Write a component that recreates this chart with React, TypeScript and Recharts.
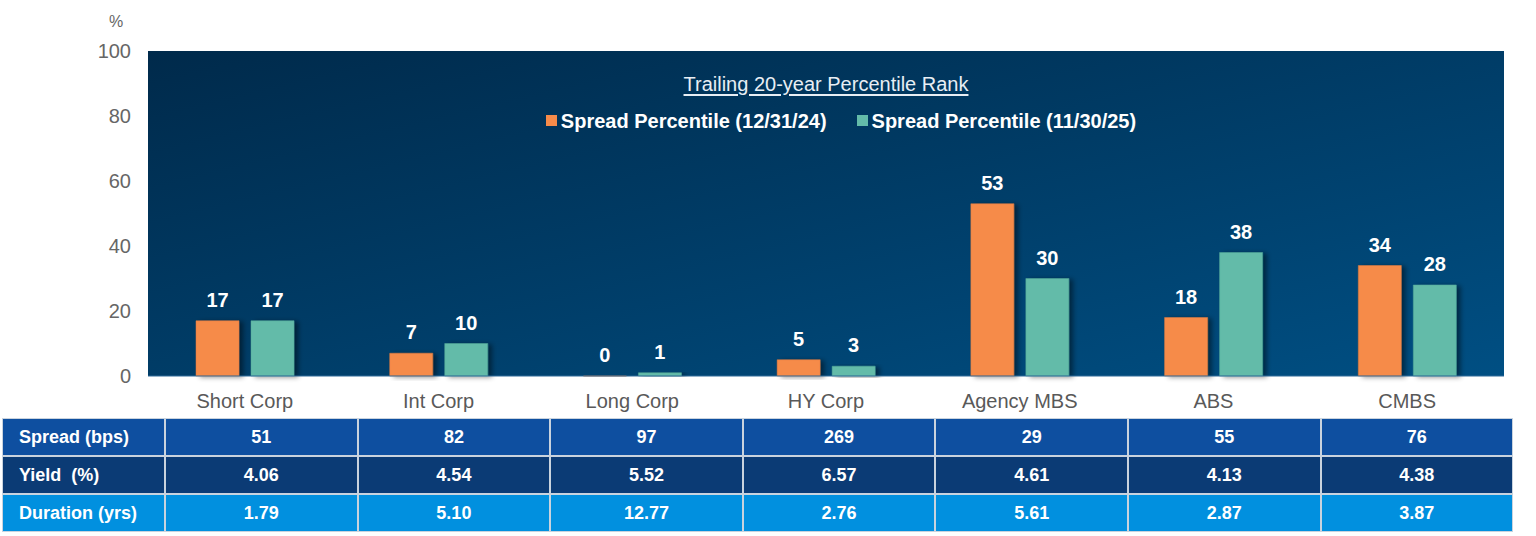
import React from "react";
import {
  BarChart,
  Bar,
  XAxis,
  YAxis,
  CartesianGrid,
  LabelList,
} from "recharts";

const categories = [
  "Short Corp",
  "Int Corp",
  "Long Corp",
  "HY Corp",
  "Agency MBS",
  "ABS",
  "CMBS",
];
const pct2024 = [17, 7, 0, 5, 53, 18, 34];
const pct2025 = [17, 10, 1, 3, 30, 38, 28];
const yTicks = [0, 20, 40, 60, 80, 100];

const spreadBps = ["51", "82", "97", "269", "29", "55", "76"];
const yieldPct = ["4.06", "4.54", "5.52", "6.57", "4.61", "4.13", "4.38"];
const durationYrs = ["1.79", "5.10", "12.77", "2.76", "5.61", "2.87", "3.87"];

const ORANGE = "#F68B4A";
const TEAL = "#63BBA9";
const FONT = "'Liberation Sans', Arial, sans-serif";

const tableRows = [
  { label: "Spread (bps)", values: spreadBps, bg: "#0E4FA0" },
  { label: "Yield  (%)", values: yieldPct, bg: "#0B3B75" },
  { label: "Duration (yrs)", values: durationYrs, bg: "#0190DF" },
];

const data = categories.map((name, i) => ({
  name,
  p2024: pct2024[i],
  p2025: pct2025[i],
}));

// value label above each bar (drawn even when the bar has zero height)
const renderValueLabel = (props: any) => {
  const { x, y, width, value } = props;
  if (value === undefined || value === null) return null;
  return (
    <text
      x={Number(x) + Number(width) / 2}
      y={Number(y) - 14}
      textAnchor="middle"
      fill="#fff"
      fontSize={20}
      fontWeight="bold"
      fontFamily={FONT}
    >
      {value}
    </text>
  );
};

const LegendSwatch = ({ color }: { color: string }) => (
  <span
    style={{
      display: "inline-block",
      width: 11,
      height: 11,
      background: color,
      marginRight: 4,
      verticalAlign: "middle",
      position: "relative",
      top: -2,
    }}
  />
);

const App = () => {
  return (
    <div
      style={{
        position: "fixed",
        left: 0,
        top: 0,
        width: 1536,
        height: 536,
        background: "#fff",
        fontFamily: FONT,
      }}
    >
      <div
        style={{
          position: "absolute",
          left: 109,
          top: 13,
          fontSize: 16,
          color: "#666",
        }}
      >
        %
      </div>
      <BarChart
        width={1536}
        height={416}
        data={data}
        margin={{ top: 51, right: 32, left: 0, bottom: 10 }}
        barSize={43}
        barGap={12}
      >
        <defs>
          <linearGradient id="plotBg" x1="0" y1="0" x2="1" y2="1">
            <stop offset="0%" stopColor="#002A4B" />
            <stop offset="100%" stopColor="#004F83" />
          </linearGradient>
          <filter id="barShadow" x="-20%" y="-20%" width="160%" height="140%">
            <feDropShadow
              dx={4}
              dy={1}
              stdDeviation={2.5}
              floodColor="#000"
              floodOpacity={0.45}
            />
          </filter>
        </defs>
        <CartesianGrid
          horizontal={false}
          vertical={false}
          fill="url(#plotBg)"
          fillOpacity={1}
        />
        <XAxis
          dataKey="name"
          tickLine={false}
          axisLine={{ stroke: "#2E6A99" }}
          tick={{ fill: "#595959", fontSize: 20, fontFamily: FONT }}
          tickMargin={12}
        />
        <YAxis
          width={148}
          domain={[0, 100]}
          ticks={yTicks}
          tickLine={false}
          tickSize={0}
          tickMargin={17}
          axisLine={false}
          tick={{ fill: "#666", fontSize: 20, fontFamily: FONT }}
        />
        <Bar
          dataKey="p2024"
          fill={ORANGE}
          stroke="#E07A3C"
          strokeWidth={0.5}
          minPointSize={0.01}
          filter="url(#barShadow)"
          isAnimationActive={false}
        >
          <LabelList dataKey="p2024" content={renderValueLabel} />
        </Bar>
        <Bar
          dataKey="p2025"
          fill={TEAL}
          stroke="#55A896"
          strokeWidth={0.5}
          filter="url(#barShadow)"
          isAnimationActive={false}
        >
          <LabelList dataKey="p2025" content={renderValueLabel} />
        </Bar>
      </BarChart>

      {/* title and legend drawn over the plot */}
      <div
        style={{
          position: "absolute",
          left: 148,
          width: 1356,
          top: 73,
          textAlign: "center",
          color: "#E8EEF4",
          fontSize: 20,
          textDecoration: "underline",
          textUnderlineOffset: 3,
        }}
      >
        Trailing 20-year Percentile Rank
      </div>
      <div
        style={{
          position: "absolute",
          left: 163,
          width: 1356,
          top: 110,
          textAlign: "center",
          color: "#fff",
          fontSize: 20,
          fontWeight: "bold",
          whiteSpace: "nowrap",
        }}
      >
        <LegendSwatch color={ORANGE} />
        <span style={{ marginRight: 30 }}>Spread Percentile (12/31/24)</span>
        <LegendSwatch color={TEAL} />
        <span>Spread Percentile (11/30/25)</span>
      </div>

      <table
        style={{
          position: "absolute",
          left: 1,
          top: 417,
          borderCollapse: "separate",
          borderSpacing: 2,
          background: "#fff",
          fontFamily: FONT,
          fontSize: 18,
          fontWeight: "bold",
          color: "#fff",
        }}
      >
        <tbody>
          {tableRows.map((row) => (
            <tr key={row.label} style={{ height: 36 }}>
              <td
                style={{
                  width: 145,
                  padding: "0 0 0 16px",
                  background: row.bg,
                  outline: "1px solid #C9D3DE",
                  whiteSpace: "pre",
                }}
              >
                {row.label}
              </td>
              {row.values.map((v, i) => (
                <td
                  key={i}
                  style={{
                    width: 190.6,
                    padding: 0,
                    textAlign: "center",
                    background: row.bg,
                    outline: "1px solid #C9D3DE",
                  }}
                >
                  {v}
                </td>
              ))}
            </tr>
          ))}
        </tbody>
      </table>
    </div>
  );
};

export default App;
